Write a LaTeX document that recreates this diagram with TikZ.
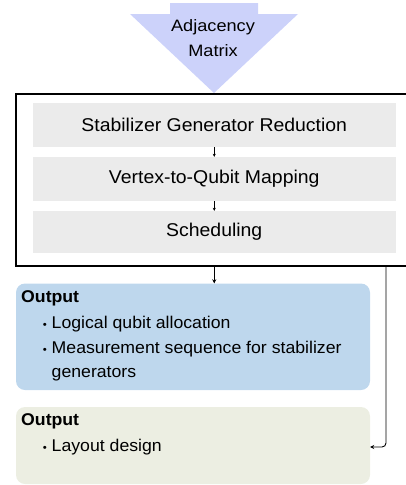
\documentclass[tikz,border=0pt]{standalone}
\usepackage{fontspec}
\setmainfont{Liberation Sans}[FakeStretch=1.04]
\newfontfamily\adjfont{Liberation Sans}[FakeStretch=1.1]
\newfontfamily\stepfont{Liberation Sans}[FakeStretch=1.05]
\usetikzlibrary{arrows.meta}
\definecolor{lav}{RGB}{204,210,250}
\definecolor{graybox}{RGB}{235,235,235}
\definecolor{bluebox}{RGB}{190,215,237}
\definecolor{beigebox}{RGB}{236,238,226}
\tikzset{
  txt/.style={font=\fontsize{17}{25}\selectfont, inner sep=0pt},
  adjtxt/.style={font=\adjfont\fontsize{16.5}{25}\selectfont, inner sep=0pt},
  stepbox/.style={fill=graybox, minimum width=363pt, inner sep=0pt, font=\stepfont\fontsize{18.5}{25}\selectfont},
  outbox/.style={rounded corners=9pt, minimum width=354pt, inner sep=0pt},
  conn/.style={line width=0.9pt, -{Stealth[length=4pt,width=4pt]}},
  small/.style={line width=0.8pt, -{Stealth[length=3pt,width=3pt]}},
  bul/.style={font=\fontsize{11}{11}\selectfont, inner sep=0pt},
}
\begin{document}
\begin{tikzpicture}[x=1pt,y=-1pt]
\useasboundingbox (0,0) rectangle (406,485);
\clip (0,0) rectangle (406,485);
% input arrow
\fill[lav] (170,3) -- (258,3) -- (258,14) -- (298,14) -- (214,93) -- (130,14) -- (170,14) -- cycle;
\node[adjtxt, anchor=base] (adj1) at (213,31) {Adjacency};
\node[adjtxt, anchor=base] (adj2) at (213,56) {Matrix};
% outer box
\node[draw, line width=1.3pt, minimum width=424pt, minimum height=172pt, inner sep=0pt] (outer) at (228,180) {};
% steps
\node[stepbox, minimum height=44pt] (g1) at (214.25,125) {Stabilizer Generator Reduction};
\node[stepbox, minimum height=44pt] (g2) at (214.25,179) {Vertex-to-Qubit Mapping};
\node[stepbox, minimum height=42pt] (g3) at (214.25,232) {Scheduling};
\draw[small] (g1.south) -- (g2.north);
\draw[small] (g2.south) -- (g3.north);
% outputs
\node[outbox, fill=bluebox, minimum height=106.5pt] (blue) at (193,336.75) {};
\node[outbox, fill=beigebox, minimum height=77pt] (beige) at (193,445.5) {};
% blue text
\node[txt, anchor=base west, font=\fontsize{17}{25}\selectfont\bfseries] (o1) at (21,302) {Output};
\node[bul, anchor=base] (b1) at (45,328) {•};
\node[txt, anchor=base west] (t1) at (51.5,328) {Logical qubit allocation};
\node[bul, anchor=base] (b2) at (45,353) {•};
\node[txt, anchor=base west] (t2) at (51.5,353) {Measurement sequence for stabilizer};
\node[txt, anchor=base west] (t3) at (51.5,377) {generators};
% beige text
\node[txt, anchor=base west, font=\fontsize{17}{25}\selectfont\bfseries] (o2) at (21,425) {Output};
\node[bul, anchor=base] (b3) at (45,451) {•};
\node[txt, anchor=base west] (t4) at (51.5,451) {Layout design};
% connectors
\draw[conn] (g3.south |- outer.south) -- (blue.north -| g3.south);
\coordinate (tap) at (386,266);
\draw[conn, rounded corners=4pt] (tap) |- ([yshift=-1.5pt]beige.east);
\end{tikzpicture}
\end{document}
